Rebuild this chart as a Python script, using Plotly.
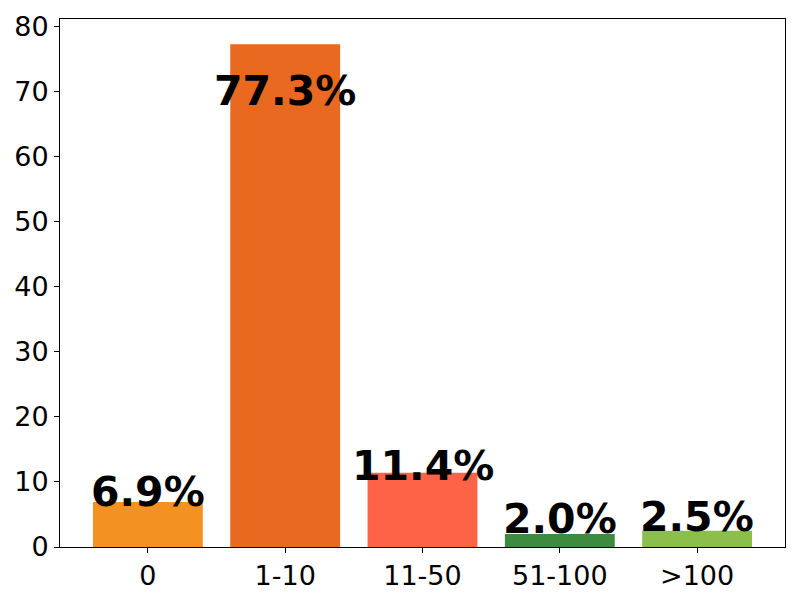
import plotly.graph_objects as go

categories = ["0", "1-10", "11-50", "51-100", ">100"]
values = [6.9, 77.3, 11.4, 2.0, 2.5]
labels = ["6.9%", "77.3%", "11.4%", "2.0%", "2.5%"]
colors = ["#F39121", "#E8691F", "#FF6347", "#3E8A3E", "#8BBE4B"]
y_ticks = [0, 10, 20, 30, 40, 50, 60, 70, 80]

FONT = "DejaVu Sans"

fig = go.Figure()
fig.add_trace(go.Bar(
    x=categories, y=values, width=0.8,
    marker=dict(color=colors, line=dict(width=0)),
    hoverinfo="skip",
))

for c, v, lab in zip(categories, values, labels):
    base = max(v * 0.875, 1.85)
    fig.add_annotation(
        x=c, y=base, text=f"<b>{lab}</b>", showarrow=False,
        xanchor="center", yanchor="bottom", yshift=-10,
        font=dict(family=FONT, size=41, color="black"),
    )

fig.update_layout(
    width=792, height=592,
    margin=dict(l=52, r=15, t=11, b=53, autoexpand=False),
    paper_bgcolor="white", plot_bgcolor="white",
    showlegend=False,
    font=dict(family=FONT, size=28, color="black"),
    bargap=0.2,
)
fig.update_xaxes(
    type="category", range=[-0.64, 4.64],
    showline=True, mirror=True, linecolor="black", linewidth=1,
    ticks="outside", ticklen=5, tickcolor="black",
    showgrid=False, zeroline=False,
    tickfont=dict(family=FONT, size=27, color="black"),
)
fig.update_yaxes(
    range=[0, 81.165], tickvals=y_ticks,
    showline=True, mirror=True, linecolor="black", linewidth=1,
    ticks="outside", ticklen=5, tickcolor="black",
    showgrid=False, zeroline=False,
    tickfont=dict(family=FONT, size=27, color="black"),
)

fig.write_html("out.html")
